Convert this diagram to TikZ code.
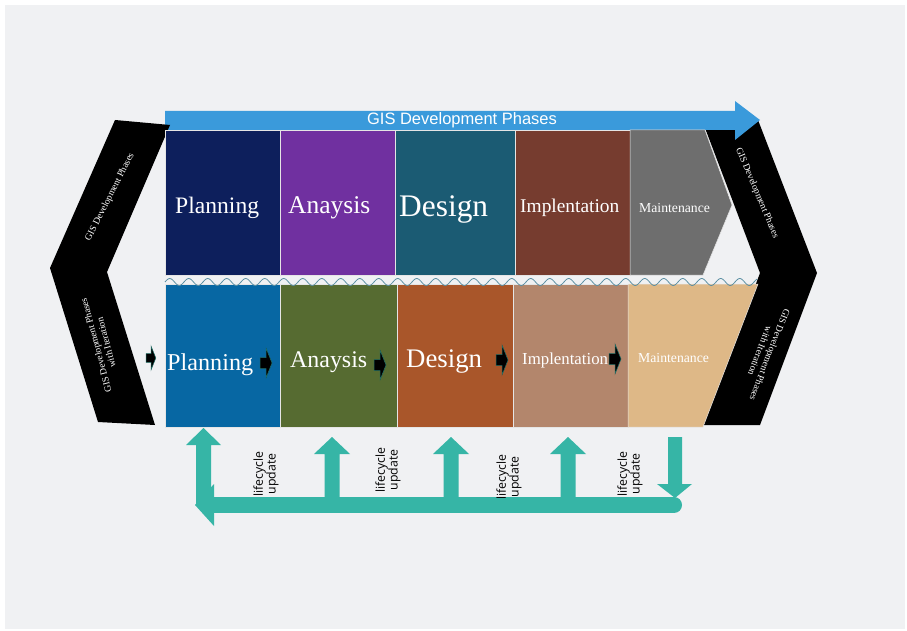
\documentclass[tikz,border=0pt]{standalone}
\usepackage{fontspec}
\setmainfont{Liberation Serif}
\newfontfamily\arialf{Liberation Sans}
\newfontfamily\osans{Open Sans}
\definecolor{bgc}{HTML}{F0F1F3}
\definecolor{bluear}{HTML}{3A9ADB}
\definecolor{pA}{HTML}{0D1F5C}
\definecolor{aA}{HTML}{7030A0}
\definecolor{dA}{HTML}{1B5B73}
\definecolor{iA}{HTML}{763C2F}
\definecolor{mA}{HTML}{6E6E6E}
\definecolor{pB}{HTML}{0767A3}
\definecolor{aB}{HTML}{566B31}
\definecolor{dB}{HTML}{A9562A}
\definecolor{iB}{HTML}{B3866C}
\definecolor{mB}{HTML}{DEB887}
\definecolor{tealc}{HTML}{36B5A6}
\definecolor{wavec}{HTML}{5B8FA3}
\tikzset{
  boxtxt/.style={text=white, inner sep=0pt, anchor=base west},
  chevtxt/.style={text=white, font=\fontsize{9.5}{10.5}\selectfont, align=center, inner sep=0pt},
  lctxt/.style={font=\osans\fontsize{12.3}{12.8}\selectfont, align=center, rotate=90, inner sep=0pt},
  sepline/.style={draw=white!80!gray, line width=0.5},
  tealfill/.style={fill=tealc},
  blkarrow/.pic={\fill[black, draw=tealc!60!black, line width=0.5] (-6,-5.5) -- (0,-5.5) -- (0,-15) -- (6,0) -- (0,15) -- (0,5.5) -- (-6,5.5) -- cycle;}
}
\begin{document}
\begin{tikzpicture}[x=1pt,y=-1pt]
\useasboundingbox (0,0) rectangle (907,631);
\fill[white] (0,0) rectangle (907,631);
\fill[bgc] (5,5) rectangle (905,629);

% right chevron
\fill[black] (705,128) -- (758,120) -- (817,273) -- (760,425) -- (703,425) -- (760,273) -- cycle;

% top blue arrow
\fill[bluear] (165,111) -- (735,111) -- (735,101) -- (760,120) -- (735,140) -- (735,130) -- (165,130) -- cycle;
\node[text=white, font=\arialf\fontsize{16.5}{18}\selectfont, inner sep=0pt] (ttl) at (462,120) {GIS Development Phases};

% left chevron
\fill[black] (115,120) -- (170,125) -- (107,272) -- (155,425) -- (98,422) -- (50,268) -- cycle;

% top row
\fill[pA, sepline] (165,130) rectangle (280,275);
\fill[aA, sepline] (280,130) rectangle (395,275);
\fill[dA, sepline] (395,130) rectangle (515,275);
\fill[iA, sepline] (515,130) rectangle (630,275);
\fill[mA, sepline] (630,130) -- (705,130) -- (732,205) -- (703,275) -- (630,275) -- cycle;

% bottom row
\fill[pB, sepline] (165,284) rectangle (280,427);
\fill[aB, sepline] (280,284) rectangle (397,427);
\fill[dB, sepline] (397,284) rectangle (513,427);
\fill[iB, sepline] (513,284) rectangle (628,427);
\fill[mB, sepline] (628,284) -- (758,284) -- (703,427) -- (628,427) -- cycle;

% wave
\draw[wavec, line width=0.8] plot[domain=165:757, samples=500, smooth] (\x, {282 - 3.5*sin(18.947*(\x-165))});

% top texts
\node[boxtxt, font=\fontsize{23.6}{26}\selectfont] (t1) at (175,214) {Planning};
\node[boxtxt, font=\fontsize{25.5}{28}\selectfont] (t2) at (288,214) {Anaysis};
\node[boxtxt, font=\fontsize{31.4}{34}\selectfont] (t3) at (399,216) {Design};
\node[boxtxt, font=\fontsize{19.4}{22}\selectfont] (t4) at (520,212) {Implentation};
\node[boxtxt, font=\fontsize{13.7}{16}\selectfont] (t5) at (639,212) {Maintenance};

% bottom texts
\node[boxtxt, font=\fontsize{24.2}{26}\selectfont] (b1) at (167,370) {Planning};
\node[boxtxt, font=\fontsize{23.9}{26}\selectfont] (b2) at (290,367) {Anaysis};
\node[boxtxt, font=\fontsize{26.8}{29}\selectfont] (b3) at (406,367) {Design};
\node[boxtxt, font=\fontsize{16.8}{19}\selectfont] (b4) at (522,364) {Implentation};
\node[boxtxt, font=\fontsize{13.7}{16}\selectfont] (b5) at (638,362) {Maintenance};

% small black arrows
\pic[scale=0.8] (s0) at (151,358) {blkarrow};
\pic (s1) at (266,363) {blkarrow};
\pic (s2) at (380,365) {blkarrow};
\pic (s3) at (502,360) {blkarrow};
\pic (s4) at (615,359) {blkarrow};

% chevron texts
\node[chevtxt, rotate=63] (cl1) at (110,197) {GIS Development Phases};
\node[chevtxt, rotate=105] (cl2) at (101,344) {GIS Development Phases\\with Iteration};
\node[chevtxt, rotate=-67] (cr1) at (757,193) {GIS Development Phases};
\node[chevtxt, rotate=-111] (cr2) at (765,353) {GIS Development Phases\\with Iteration};

% teal arrows
\draw[tealc, line width=16, line cap=round] (212,505) -- (674,505);
\fill[tealfill] (195,505) -- (214,484) -- (214,526) -- cycle;
% up arrow 1
\fill[tealfill] (196,505) -- (196,445) -- (186,445) -- (203.5,428) -- (221,445) -- (211,445) -- (211,505) -- cycle;
% up arrows 2-4
\foreach \cx in {332,451,568}{
  \fill[tealfill] (\cx-7.5,505) -- (\cx-7.5,454) -- (\cx-18,454) -- (\cx,437) -- (\cx+18,454) -- (\cx+7.5,454) -- (\cx+7.5,505) -- cycle;
}
% down arrow
\fill[tealfill] (668,437) -- (682,437) -- (682,484) -- (692,484) -- (675,498) -- (657,484) -- (668,484) -- cycle;

% lifecycle labels
\node[lctxt] (l1) at (266,474) {lifecycle\\update};
\node[lctxt] (l2) at (388,470) {lifecycle\\update};
\node[lctxt] (l3) at (509,477) {lifecycle\\update};
\node[lctxt] (l4) at (630,474) {lifecycle\\update};
\end{tikzpicture}
\end{document}
